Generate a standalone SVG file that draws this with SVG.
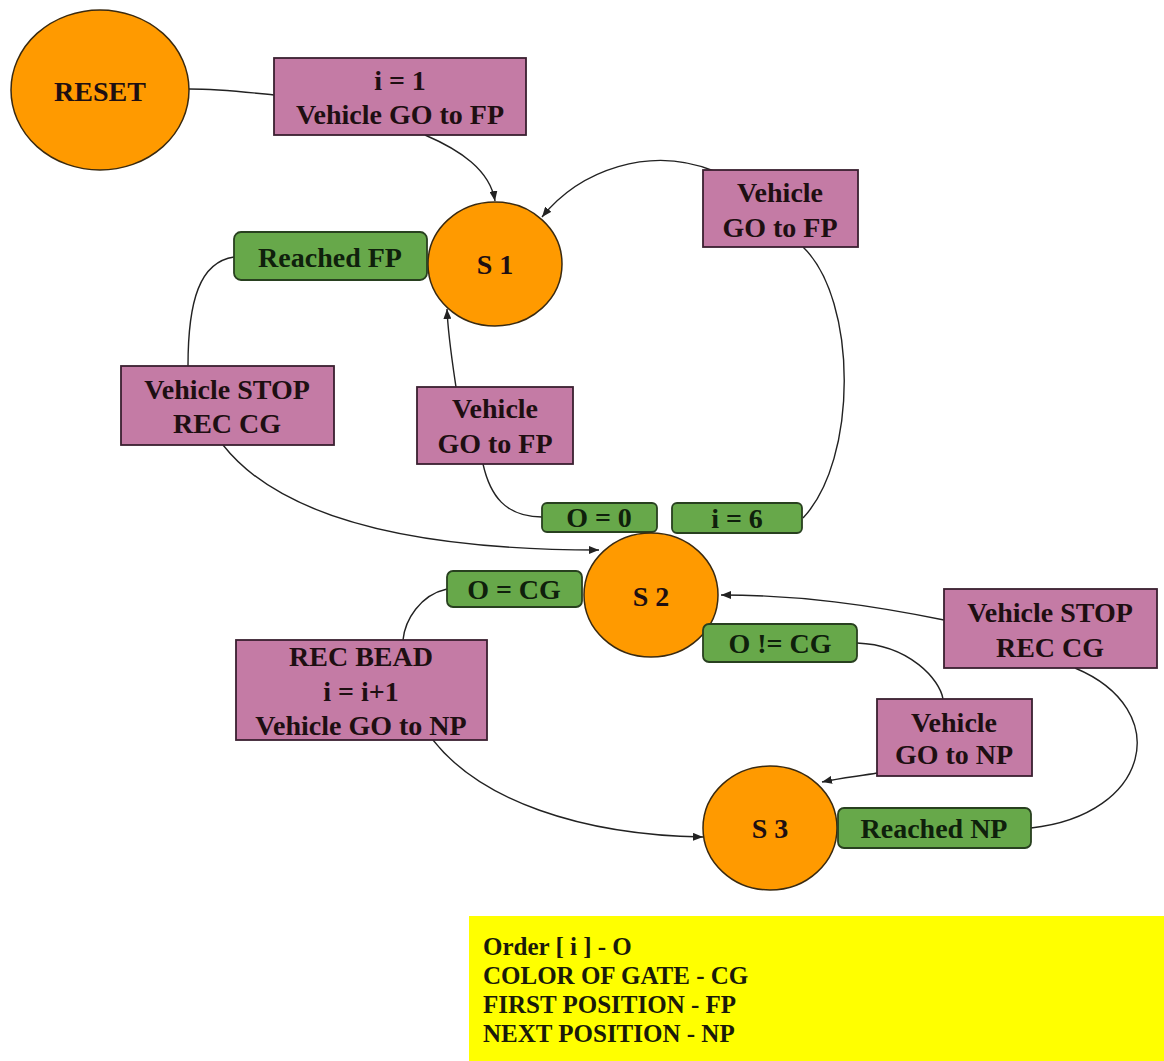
<svg xmlns="http://www.w3.org/2000/svg" width="1164" height="1061" viewBox="0 0 1164 1061">
<style>
.state{fill:#FF9A00;stroke:#3a2a10;stroke-width:1.5}
.act{fill:#C47BA5;stroke:#3a2030;stroke-width:1.8}
.cond{fill:#67A84A;stroke:#28401f;stroke-width:1.8}
.t{font-family:"Liberation Serif","Times New Roman",serif;font-weight:bold;font-size:28px;fill:#1e0f12;text-anchor:middle}
.tc{font-family:"Liberation Serif","Times New Roman",serif;font-weight:bold;font-size:28px;fill:#0f200c;text-anchor:middle}
.lg{font-family:"Liberation Serif","Times New Roman",serif;font-weight:bold;font-size:25px;fill:#1a1a0a}
.c{fill:none;stroke:#222;stroke-width:1.4}
.ca{fill:none;stroke:#222;stroke-width:1.4;marker-end:url(#ah)}
</style>
<defs>
<marker id="ah" markerUnits="userSpaceOnUse" markerWidth="10" markerHeight="8" refX="10" refY="4" orient="auto">
<path d="M0,0 L10,4 L0,8 z" fill="#222"/>
</marker>
</defs>
<rect width="1164" height="1061" fill="#fff"/>
<g id="connectors">
<path class="c" d="M189,89 C220,89 245,92 274,95"/>
<path class="ca" d="M425,135 C460,150 490,170 495,201"/>
<path class="ca" d="M714,171 C650,145 580,170 542,217"/>
<path class="c" d="M803,247 C858,300 858,460 803,518"/>
<path class="c" d="M542,517 C505,517 490,495 483,464"/>
<path class="ca" d="M456,387 C452,360 448,335 447,309"/>
<path class="c" d="M234,257 C200,262 188,300 188,366"/>
<path class="ca" d="M223,445 C290,530 450,550 599,550"/>
<path class="c" d="M447,589 C420,595 405,620 403,640"/>
<path class="ca" d="M433,740 C480,800 580,835 703,837"/>
<path class="ca" d="M944,620 C870,605 800,595 721,595"/>
<path class="c" d="M857,643 C910,645 940,680 943,699"/>
<path class="ca" d="M877,773 C860,776 840,778 822,782"/>
<path class="c" d="M1031,828 C1150,815 1175,710 1075,668"/>
</g>
<g id="reset"><ellipse class="state" cx="100" cy="90" rx="89" ry="80"/><text class="t" x="100" y="101">RESET</text></g>
<g id="act-init"><rect class="act" x="274" y="58" width="252" height="77"/><text class="t" x="400" y="90">i = 1</text><text class="t" x="400" y="124">Vehicle GO to FP</text></g>
<g id="s1"><ellipse class="state" cx="495" cy="264" rx="67" ry="62"/><text class="t" x="495" y="274">S 1</text></g>
<g id="reached-fp"><rect class="cond" x="234" y="232" width="193" height="48" rx="7"/><text class="tc" x="330" y="267">Reached FP</text></g>
<g id="act-go-fp-right"><rect class="act" x="703" y="170" width="155" height="77"/><text class="t" x="780" y="202">Vehicle</text><text class="t" x="780" y="237">GO to FP</text></g>
<g id="act-stop-left"><rect class="act" x="121" y="366" width="213" height="79"/><text class="t" x="227" y="399">Vehicle STOP</text><text class="t" x="227" y="433">REC CG</text></g>
<g id="act-go-fp-mid"><rect class="act" x="417" y="387" width="156" height="77"/><text class="t" x="495" y="418">Vehicle</text><text class="t" x="495" y="453">GO to FP</text></g>
<g id="cond-o0"><rect class="cond" x="542" y="503" width="115" height="29" rx="5"/><text class="tc" x="599" y="527">O = 0</text></g>
<g id="cond-i6"><rect class="cond" x="672" y="503" width="130" height="30" rx="5"/><text class="tc" x="737" y="528">i = 6</text></g>
<g id="s2"><ellipse class="state" cx="651" cy="595" rx="67" ry="62"/><text class="t" x="651" y="606">S 2</text></g>
<g id="cond-ocg"><rect class="cond" x="447" y="571" width="135" height="36" rx="6"/><text class="tc" x="514" y="599">O = CG</text></g>
<g id="cond-oneqcg"><rect class="cond" x="703" y="624" width="154" height="38" rx="6"/><text class="tc" x="780" y="653">O != CG</text></g>
<g id="act-rec-bead"><rect class="act" x="236" y="640" width="251" height="100"/><text class="t" x="361" y="666">REC BEAD</text><text class="t" x="361" y="701">i = i+1</text><text class="t" x="361" y="735">Vehicle GO to NP</text></g>
<g id="act-stop-right"><rect class="act" x="944" y="589" width="213" height="79"/><text class="t" x="1050" y="622">Vehicle STOP</text><text class="t" x="1050" y="657">REC CG</text></g>
<g id="act-go-np"><rect class="act" x="877" y="699" width="155" height="77"/><text class="t" x="954" y="732">Vehicle</text><text class="t" x="954" y="764">GO to NP</text></g>
<g id="s3"><ellipse class="state" cx="770" cy="828" rx="67" ry="62"/><text class="t" x="770" y="838">S 3</text></g>
<g id="reached-np"><rect class="cond" x="838" y="808" width="193" height="40" rx="6"/><text class="tc" x="934" y="838">Reached NP</text></g>
<g id="legend"><rect x="469" y="916" width="695" height="145" fill="#FFFF00"/>
<text class="lg" x="483" y="955">Order [ i ] - O</text>
<text class="lg" x="483" y="984">COLOR OF GATE - CG</text>
<text class="lg" x="483" y="1013">FIRST POSITION - FP</text>
<text class="lg" x="483" y="1042">NEXT POSITION - NP</text></g>
</svg>
